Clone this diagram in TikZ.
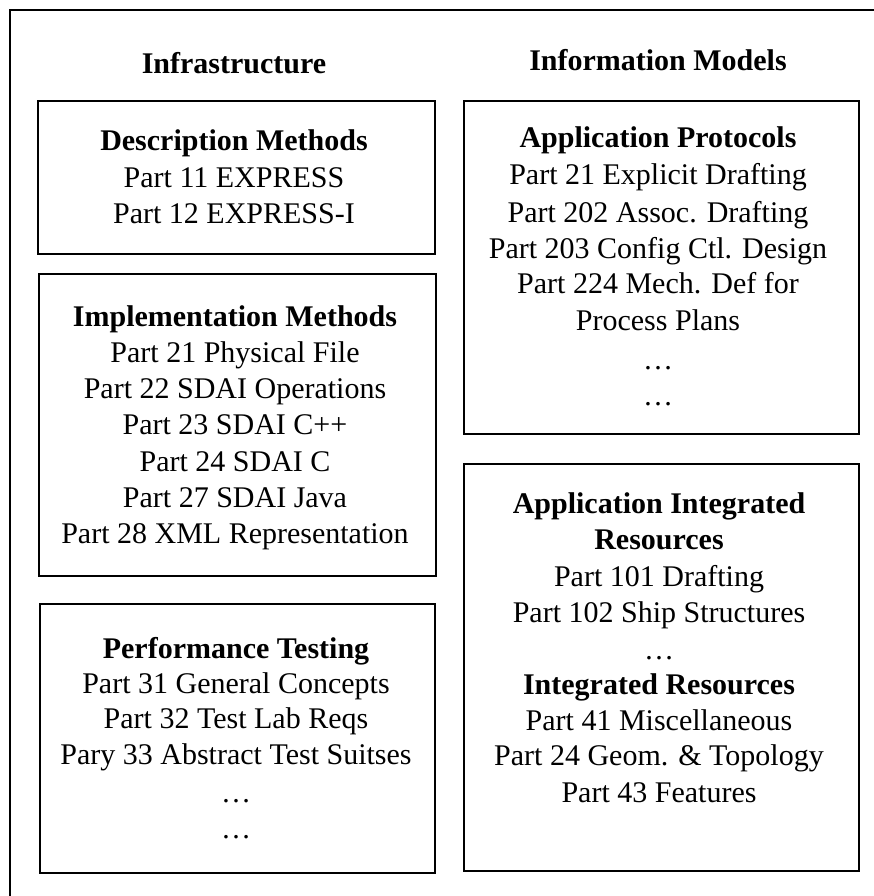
\documentclass[tikz,border=0pt]{standalone}
\usepackage{fontspec}
\setmainfont{Liberation Serif}
\begin{document}
\begin{tikzpicture}[x=1pt,y=-1pt,
  frameline/.style={line width=2pt},
  partbox/.style={draw, line width=2pt, anchor=north west, inner sep=0pt},
  txt/.style={anchor=base, inner sep=0pt, font=\fontsize{30}{36}\selectfont},
  hd/.style={txt, font=\fontsize{30}{36}\selectfont\bfseries}]
\useasboundingbox (0,0) rectangle (874,896);
% outer frame (only top and left edges visible)
\coordinate (ftl) at (10,10);
\coordinate (ftr) at (880,10);
\coordinate (fbl) at (10,900);
\draw[frameline] (ftr) -- (ftl) -- (fbl);

% column titles
\node[hd] (tinf) at (234,74) {Infrastructure};
\node[hd] (tinfo) at (658,71) {Information Models};

% boxes
\node[partbox, minimum width=397pt, minimum height=153pt] (bdesc) at (37,100) {};
\node[partbox, minimum width=397pt, minimum height=302pt] (bimpl) at (38,273) {};
\node[partbox, minimum width=395pt, minimum height=269pt] (bperf) at (39,603) {};
\node[partbox, minimum width=395pt, minimum height=333pt] (bap) at (463,100) {};
\node[partbox, minimum width=395pt, minimum height=407pt] (bair) at (463,463) {};

% Description Methods
\node[hd]  (d0) at (234,151) {Description Methods};
\node[txt] (d1) at (234,187) {Part 11 EXPRESS};
\node[txt] (d2) at (234,223) {Part 12 EXPRESS-I};

% Implementation Methods
\node[hd]  (i0) at (235,326) {Implementation Methods};
\node[txt] (i1) at (235,362) {Part 21 Physical File};
\node[txt] (i2) at (235,398) {Part 22 SDAI Operations};
\node[txt] (i3) at (235,434) {Part 23 SDAI C++};
\node[txt] (i4) at (235,471) {Part 24 SDAI C};
\node[txt] (i5) at (235,507) {Part 27 SDAI Java};
\node[txt] (i6) at (235,543) {Part 28 XML Representation};

% Performance Testing
\node[hd]  (p0) at (236,658) {Performance Testing};
\node[txt] (p1) at (236,693) {Part 31 General Concepts};
\node[txt] (p2) at (236,728) {Part 32 Test Lab Reqs};
\node[txt] (p3) at (236,764) {Pary 33 Abstract Test Suitses};
\node[txt] (p4) at (236,802) {…};
\node[txt] (p5) at (236,838) {…};

% Application Protocols
\node[hd]  (a0) at (658,148) {Application Protocols};
\node[txt] (a1) at (658,185) {Part 21 Explicit Drafting};
\node[txt] (a2) at (658,222) {Part 202 Assoc. Drafting};
\node[txt] (a3) at (658,258) {Part 203 Config Ctl. Design};
\node[txt] (a4) at (658,293) {Part 224 Mech. Def for};
\node[txt] (a5) at (658,330) {Process Plans};
\node[txt] (a6) at (658,369) {…};
\node[txt] (a7) at (658,405) {…};

% Application Integrated Resources
\node[hd]  (r0) at (659,513) {Application Integrated};
\node[hd]  (r1) at (659,549) {Resources};
\node[txt] (r2) at (659,586) {Part 101 Drafting};
\node[txt] (r3) at (659,622) {Part 102 Ship Structures};
\node[txt] (r4) at (659,659) {…};
\node[hd]  (r5) at (659,694) {Integrated Resources};
\node[txt] (r6) at (659,730) {Part 41 Miscellaneous};
\node[txt] (r7) at (659,765) {Part 24 Geom. \& Topology};
\node[txt] (r8) at (659,802) {Part 43 Features};
\end{tikzpicture}
\end{document}
